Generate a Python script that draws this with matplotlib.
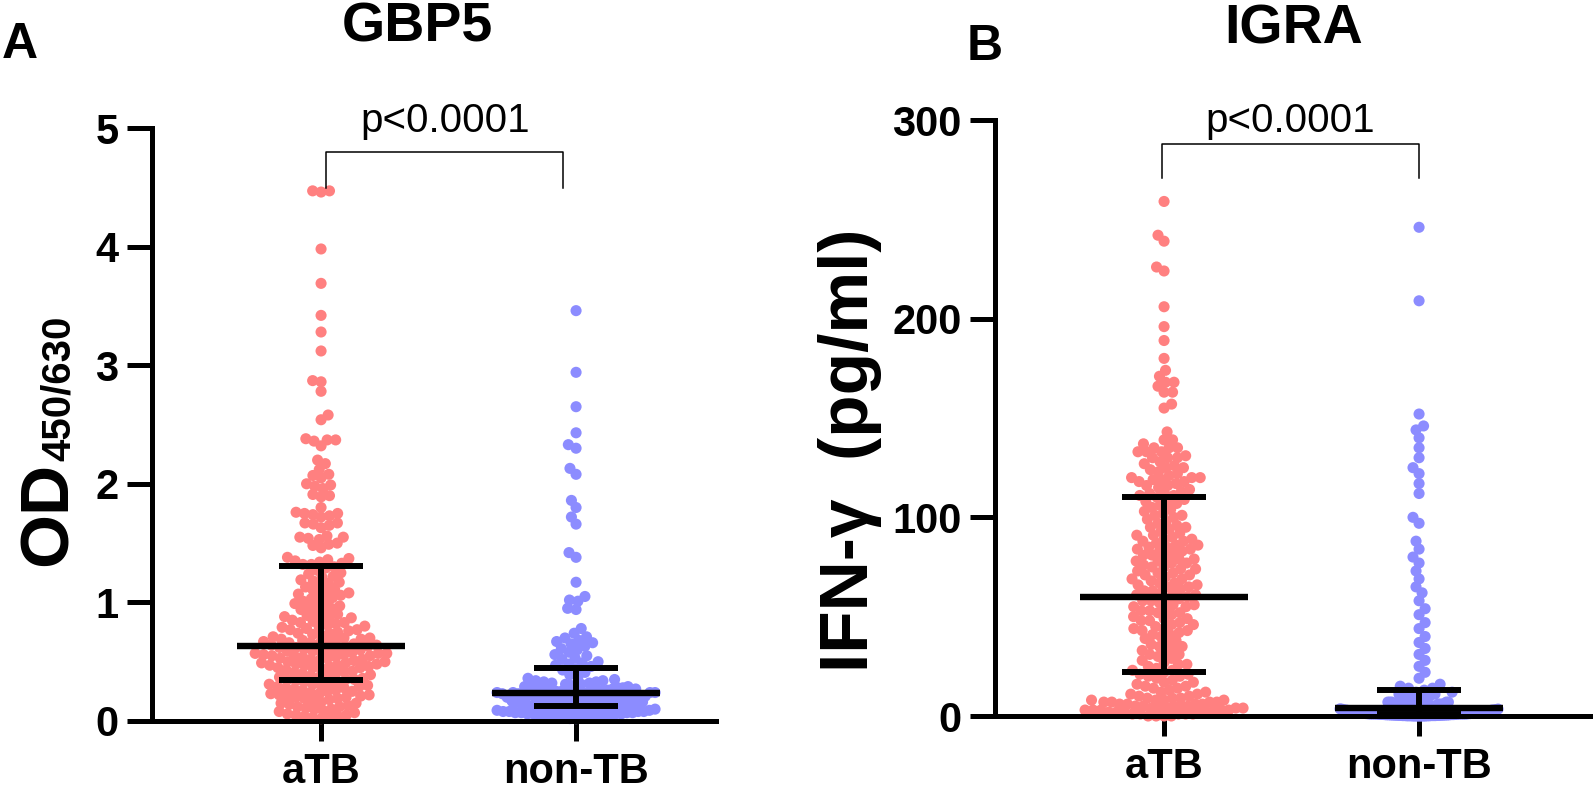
import numpy as np
import matplotlib
matplotlib.use('Agg')
import matplotlib.pyplot as plt

plt.rcParams['font.family'] = ['Liberation Sans', 'DejaVu Sans']

# ---------------- data ----------------
groups = ['aTB', 'non-TB']

gbp5_atb = [
    4.47, 4.47, 4.46, 3.98, 3.69, 3.42, 3.28, 3.12, 2.87, 2.86,
    2.78, 2.58, 2.54, 2.38, 2.37, 2.37, 2.36, 2.32, 2.20, 2.17,
    2.12, 2.08, 2.07, 2.05, 2.00, 1.99, 1.98, 1.96, 1.91, 1.90,
    1.89, 1.80, 1.76, 1.75, 1.75, 1.74, 1.73, 1.72, 1.67, 1.67,
    1.66, 1.65, 1.63, 1.56, 1.55, 1.55, 1.54, 1.53, 1.50, 1.49,
    1.48, 1.46, 1.38, 1.37, 1.36, 1.35, 1.34, 1.33, 1.32, 1.32,
    1.30, 1.29, 1.27, 1.25, 1.24, 1.22, 1.21,
    1.19, 1.18, 1.17, 1.16, 1.14, 1.13, 1.11, 1.10,
    1.09, 1.08, 1.07, 1.06, 1.05, 1.04, 1.03, 1.01, 1.00,
    0.99, 0.98, 0.97, 0.96, 0.95, 0.94, 0.93, 0.91, 0.90,
    0.89, 0.88, 0.88, 0.87, 0.86, 0.85, 0.84, 0.83, 0.83, 0.82, 0.81,
    0.80, 0.79, 0.79, 0.78, 0.77, 0.77, 0.76, 0.75, 0.74, 0.74, 0.73,
    0.72, 0.71, 0.70,
    0.70, 0.69, 0.69, 0.68, 0.68, 0.67, 0.67, 0.66, 0.66, 0.65, 0.65,
    0.64, 0.64,
    0.63, 0.63, 0.62, 0.62, 0.61, 0.61, 0.60, 0.60, 0.59, 0.59,
    0.58, 0.58, 0.57, 0.57, 0.57, 0.56, 0.56, 0.55, 0.55, 0.55,
    0.54, 0.54, 0.53, 0.53, 0.52, 0.52, 0.51, 0.51, 0.50, 0.50, 0.49,
    0.49, 0.48, 0.48, 0.47, 0.47, 0.47, 0.46, 0.46, 0.45, 0.45, 0.45,
    0.44, 0.43, 0.42, 0.42, 0.41, 0.40, 0.40, 0.39, 0.39,
    0.38, 0.37, 0.37, 0.36, 0.35, 0.35, 0.35,
    0.34, 0.33, 0.33, 0.32, 0.31, 0.31, 0.30, 0.30, 0.29,
    0.29, 0.28, 0.28, 0.27, 0.26, 0.26, 0.25,
    0.25, 0.24, 0.23, 0.23, 0.22, 0.22, 0.21, 0.21, 0.20,
    0.20, 0.19, 0.19, 0.18, 0.17, 0.16, 0.15,
    0.15, 0.14, 0.13, 0.12, 0.12, 0.11, 0.10, 0.10, 0.09,
    0.08, 0.07, 0.06, 0.05,
    0.05, 0.04, 0.04, 0.03, 0.03, 0.02,
]

gbp5_non = [
    3.46, 2.94, 2.65, 2.43, 2.33, 2.30, 2.13, 2.08, 1.86, 1.80,
    1.72, 1.66, 1.42, 1.38, 1.17, 1.05, 1.02, 1.01, 0.95, 0.94,
    0.78, 0.74, 0.71, 0.70, 0.68, 0.67, 0.66,
    0.65, 0.63, 0.61, 0.60, 0.58, 0.56, 0.55, 0.53, 0.52, 0.50,
    0.49, 0.48, 0.47, 0.46,
    0.44, 0.43, 0.41, 0.39, 0.37, 0.36,
    0.35, 0.34, 0.34, 0.33, 0.33, 0.32, 0.32, 0.31, 0.31, 0.30,
    0.30, 0.29, 0.29, 0.29, 0.28, 0.28, 0.28, 0.27, 0.27, 0.27,
    0.26, 0.26, 0.26, 0.26, 0.25, 0.25, 0.25, 0.25, 0.24, 0.24,
    0.24, 0.24, 0.24, 0.24, 0.24,
    0.23, 0.23, 0.23, 0.23, 0.22, 0.22, 0.22, 0.22, 0.21, 0.21,
    0.21, 0.21, 0.20, 0.20, 0.20, 0.20, 0.19, 0.19, 0.19, 0.19,
    0.18, 0.18, 0.18, 0.18, 0.17, 0.17, 0.17, 0.17, 0.16, 0.16,
    0.16, 0.16, 0.15, 0.15, 0.15, 0.15, 0.14, 0.14, 0.14, 0.13, 0.13,
    0.12, 0.12, 0.12, 0.12, 0.11, 0.11, 0.11, 0.11, 0.10, 0.10,
    0.10, 0.10, 0.09, 0.09, 0.09, 0.09, 0.08, 0.08, 0.08, 0.08,
    0.07, 0.07, 0.07, 0.07, 0.06, 0.06, 0.06, 0.06, 0.05, 0.05,
    0.05, 0.05, 0.04, 0.04, 0.04, 0.04, 0.03, 0.03, 0.03, 0.02, 0.02,
]

igra_atb = [
    259, 242, 239, 226, 224, 206, 196, 189, 180, 174, 171, 168, 168, 166,
    163, 163, 157, 155,
    143, 139, 139, 137, 135, 135, 135, 133, 133, 133, 131, 130, 130, 130,
    128, 127, 126, 125, 125, 124, 123, 122, 121, 120, 120, 120,
    119, 119, 118, 118, 117, 116, 116, 115, 114, 113, 112, 112, 111, 111, 110,
    109, 108, 108, 107, 106, 105, 104, 103, 102, 101, 101, 100,
    99, 98, 97, 96, 95, 95, 94, 93, 92, 91, 91, 90,
    89, 89, 88, 88, 87, 86, 86, 85, 85, 84, 84, 83, 83, 82, 81, 81, 80,
    79, 79, 78, 78, 77, 77, 76, 75, 75, 74, 74, 73, 72, 72, 71, 71, 70,
    69, 69, 68, 67, 67, 66, 66, 65, 65, 64, 63, 63, 62, 62, 61, 61, 60,
    59, 59, 58, 58, 57, 56, 56, 55, 55, 54, 53, 53, 52, 52, 51, 50,
    49, 49, 48, 48, 47, 46, 46, 45, 44, 44, 43, 43, 42, 41, 41, 40,
    39, 38, 37, 36, 35, 35, 34, 33, 32, 31, 31, 30,
    29, 28, 27, 26, 26, 25, 24, 23, 23, 22, 21, 21, 20, 20,
    19, 18, 17, 17, 16, 15, 15, 14, 14, 13, 12, 12, 11, 11, 10, 10,
    9, 9, 9, 8, 8, 8, 8, 7, 7, 7, 7, 6, 6, 6, 6, 5, 5, 5, 5, 5,
    4, 4, 4, 4, 4, 3, 3, 3, 3, 3, 3, 2, 2, 2, 2, 2, 1, 1, 1, 1, 1,
    0, 0, 0, 0,
]

igra_non = [
    246, 209, 152, 146, 144, 140, 135, 130, 125, 122, 117, 112, 100, 97,
    88, 84, 80, 77, 73, 69, 65, 62, 58, 54, 51, 47, 44, 40, 37, 34,
    31, 28, 25, 22, 19, 16,
    15, 14, 14, 13,
    12, 12, 11, 11, 10, 10, 9, 9, 8, 8,
    7, 7, 7, 7, 7, 6, 6, 6, 6, 6, 6, 6, 5, 5, 5, 5, 5, 5, 5, 5,
    4.5, 4.5, 4.5, 4.5, 4.5, 4, 4, 4, 4, 4,
    3.8, 3.6, 3.5, 3.4, 3.2, 3, 3, 3, 3, 2.8,
    2.6, 2.5, 2.5, 2.4, 2.2, 2, 2, 2, 2, 1.9,
    1.8, 1.7, 1.6, 1.5, 1.5, 1.5, 1.4, 1.3, 1.2, 1.2,
    1.1, 1.1, 1.0, 1.0, 1.0, 1.0, 1.0, 1.0, 1.0, 1.0,
    0.9, 0.9, 0.8, 0.8, 0.8, 0.7, 0.7, 0.7, 0.6, 0.6,
    0.6, 0.5, 0.5, 0.5, 0.5, 0.4, 0.4, 0.4, 0.4, 0.3,
    0.3, 0.3, 0.3, 0.2, 0.2, 0.2, 0.2, 0.2, 0.1, 0.1,
    0.1, 0.1, 0.1, 0, 0, 0, 0, 0, 0, 0,
]

# summary lines (median with interquartile range)
gbp5_median = [0.63, 0.235]
gbp5_q1 = [0.345, 0.125]
gbp5_q3 = [1.31, 0.445]
igra_median = [60, 4]
igra_q1 = [22, 1]
igra_q3 = [110, 13]

gbp5_ticks = [0, 1, 2, 3, 4, 5]
igra_ticks = [0, 100, 200, 300]

RED = '#FF8080'
BLUE = '#8C8CFF'

# ---------------- layout ----------------
W, H = 1593, 796
fig = plt.figure(figsize=(W / 100, H / 100), dpi=100)

XPX = 255.0          # pixels per x unit
XL0 = 0.337


def swarm_offsets(vals_px, d=8.5, wmax=79.0):
    v = np.asarray(vals_px, float)
    order = np.argsort(v, kind='stable')
    xs = np.zeros(len(v))
    px = np.empty(0)
    py = np.empty(0)
    for n, i in enumerate(order):
        y = v[i]
        m = np.abs(py - y) < d
        na, nb = px[m], py[m]
        cands = [0.0]
        for a, b in zip(na, nb):
            dx = np.sqrt(d * d - (b - y) ** 2)
            cands += [a + dx, a - dx]
        sgn = 1 if n % 2 else -1
        cands = np.array(sorted(cands, key=lambda c: (round(abs(c), 6), sgn * c)))
        chosen = cands[-1]
        for c in cands:
            if na.size == 0 or np.all((c - na) ** 2 + (y - nb) ** 2 >= d * d - 1e-6):
                chosen = c
                break
        xs[i] = chosen
        px = np.append(px, chosen)
        py = np.append(py, y)
    out = xs.copy()
    for i in range(len(v)):
        m = np.abs(v - v[i]) < d
        if xs[i] >= 0:
            local = max(np.max(xs[m]), 1e-9)
        else:
            local = max(-np.min(xs[m]), 1e-9)
        if local > wmax:
            out[i] = xs[i] * wmax / local
    return out


def panel(rect, xl1, data, colors, med, q1, q3, ylim, ticks, ypx):
    ax = fig.add_axes(rect)
    for k, (vals, col) in enumerate(zip(data, colors)):
        vals = np.asarray(vals, float)
        off = swarm_offsets(vals * ypx)
        ax.scatter(k + 1 + off / XPX, vals, s=64, c=col, edgecolors='none',
                   zorder=2, clip_on=False)
        c = k + 1
        ax.plot([c - 0.33, c + 0.33], [med[k], med[k]], color='k', lw=4.6,
                solid_capstyle='butt', zorder=4, clip_on=False)
        for q in (q1[k], q3[k]):
            ax.plot([c - 0.165, c + 0.165], [q, q], color='k', lw=4.3,
                    solid_capstyle='butt', zorder=4, clip_on=False)
        ax.plot([c, c], [q1[k], q3[k]], color='k', lw=4.3,
                solid_capstyle='butt', zorder=4, clip_on=False)
    ax.set_xlim(XL0, xl1)
    ax.set_ylim(*ylim)
    ax.set_xticks([1, 2])
    ax.set_xticklabels(groups)
    ax.set_yticks(ticks)
    ax.set_yticklabels([str(t) for t in ticks])
    for s in ('top', 'right'):
        ax.spines[s].set_visible(False)
    for s in ('left', 'bottom'):
        ax.spines[s].set_linewidth(3.6)
        ax.spines[s].set_zorder(5)
    ax.tick_params(axis='y', length=18, width=3.6, pad=6, labelsize=30)
    ax.tick_params(axis='x', length=14.5, width=3.6, pad=8, labelsize=30)
    for lab in ax.get_xticklabels() + ax.get_yticklabels():
        lab.set_fontweight('bold')
    ax.patch.set_visible(False)
    return ax


def frac(x0, y0top, x1, y1top):
    return [x0 / W, 1 - y1top / H, (x1 - x0) / W, (y1top - y0top) / H]


xA1 = 716
axA = panel(frac(152, 128, xA1, 721), XL0 + (xA1 - 152) / XPX,
            [gbp5_atb, gbp5_non], [RED, BLUE],
            gbp5_median, gbp5_q1, gbp5_q3, (0, 5), gbp5_ticks, 118.6)
xB1 = 1592
axB = panel(frac(995, 120, xB1, 716), XL0 + (xB1 - 995) / XPX,
            [igra_atb, igra_non], [RED, BLUE],
            igra_median, igra_q1, igra_q3, (0, 300), igra_ticks, 1.9867)


def bracket(ax, x0, x1, ytop, ybot, ytext):
    ax.plot([x0, x0, x1, x1], [ybot, ytop, ytop, ybot], color='k', lw=1.1,
            clip_on=False, zorder=6)
    ax.text((x0 + x1) / 2, ytext, 'p<0.0001', ha='center', va='baseline',
            fontsize=29, clip_on=False)


bracket(axA, 1.02, 1.95, 4.80, 4.49, 4.97)
bracket(axB, 0.99, 2.0, 288, 271, 294)

# titles and panel letters
fig.text(417 / W, 1 - 42 / H, 'GBP5', ha='center', va='baseline',
         fontsize=40, fontweight='bold')
fig.text(1294 / W, 1 - 43 / H, 'IGRA', ha='center', va='baseline',
         fontsize=40, fontweight='bold')
fig.text(2 / W, 1 - 58 / H, 'A', ha='left', va='baseline',
         fontsize=36, fontweight='bold')
fig.text(967 / W, 1 - 60 / H, 'B', ha='left', va='baseline',
         fontsize=36, fontweight='bold')

# y labels (rotated, baseline on the right-hand side)
od = fig.text(67 / W, 1 - 566 / H, 'OD', rotation=90, rotation_mode='anchor',
              ha='left', va='baseline', fontsize=50, fontweight='bold')
fig.canvas.draw()
bb = od.get_window_extent()
fig.text(70 / W, bb.y1 / H + 1 / H, '450/630', rotation=90,
         rotation_mode='anchor', ha='left', va='baseline', fontsize=29,
         fontweight='bold')
fig.text(868 / W, 1 - 450 / H, 'IFN-γ  (pg/ml)', rotation=90,
         rotation_mode='anchor', ha='center', va='baseline', fontsize=50,
         fontweight='bold')

fig.savefig('out.png', dpi=100)
